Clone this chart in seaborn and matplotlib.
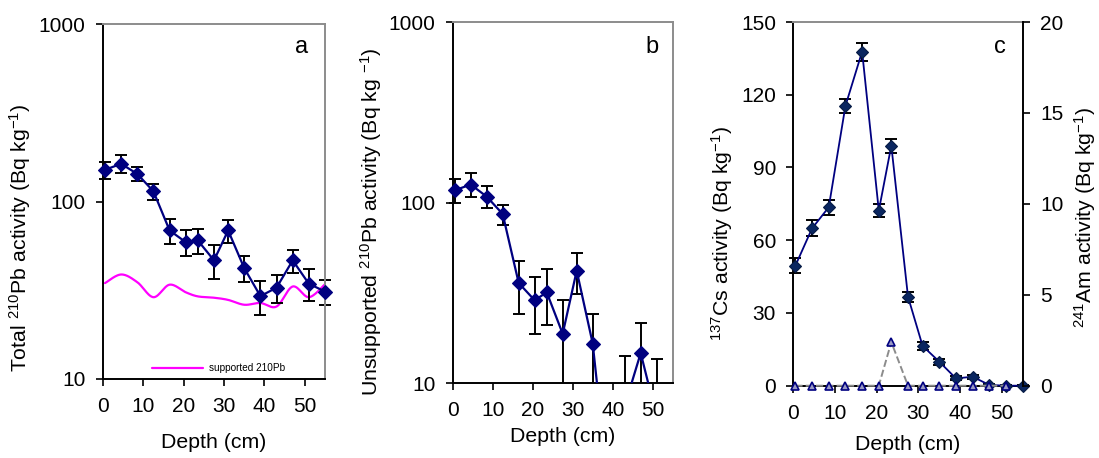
import numpy as np
import pandas as pd
import matplotlib
matplotlib.use("Agg")
import matplotlib.pyplot as plt
import seaborn as sns
from matplotlib.ticker import FixedLocator, FixedFormatter, NullLocator
from matplotlib.transforms import Bbox, TransformedBbox

# ---------------- data ----------------
depth = [0.5, 4.5, 8.5, 12.5, 16.5, 20.5, 23.5, 27.5, 31, 35, 39, 43, 47, 51, 55]
total_pb = [151, 163, 143, 114, 68.7, 59, 60.3, 46.6, 68.7, 42.1, 29.3, 32.7, 46.6, 34.4, 31.1]
total_pb_err = [17, 19, 13, 12, 11, 10, 10, 10, 10, 7, 6.5, 6, 7, 7, 5]
supported_pb = [34.7, 38.8, 35.1, 28.9, 34.0, 30.8, 29.2, 28.7, 27.9, 26.2, 26.8, 25.6, 33.2, 28.9, 34.2]
unsup_pb = [117, 126, 108, 86.5, 35.9, 28.8, 31.9, 18.8, 42, 16.6, 2.5, 7.5, 14.7, 6.5, np.nan]
unsup_pb_err = [18, 19, 15, 11, 11.8, 10, 11, 10, 10.6, 7.6, 6.5, 6.7, 7, 7.2, np.nan]
cs137 = [49.5, 64.9, 73.6, 115.4, 137.8, 72.2, 99.0, 36.7, 16.4, 9.9, 3.0, 3.7, 0.3, 0, 0]
cs137_err = [3.2, 3.3, 3.1, 3.0, 3.7, 2.6, 2.9, 2.1, 1.6, 1.2, 0.8, 0.8, 0.5, 0.3, 0.3]
am241 = [0, 0, 0, 0, 0, 0, 2.4, 0, 0, 0, 0, 0, 0, 0, np.nan]

log_ticks = [10, 100, 1000]
log_labels = ["10", "100", "1000"]
cs_ticks = [0, 30, 60, 90, 120, 150]
am_ticks = [0, 5, 10, 15, 20]
x_ticks = [0, 10, 20, 30, 40, 50]

# ---------------- style ----------------
sns.set_style("ticks")
plt.rcParams["font.family"] = ["Liberation Sans", "DejaVu Sans"]
plt.rcParams["mathtext.fontset"] = "custom"
plt.rcParams["mathtext.rm"] = "Liberation Sans"
plt.rcParams["mathtext.it"] = "Liberation Sans:italic"
plt.rcParams["mathtext.bf"] = "Liberation Sans:bold"
for k in ["text.color", "axes.labelcolor", "xtick.color", "ytick.color"]:
    plt.rcParams[k] = "black"

NAVY = "#000080"
DARKNAVY = "#0A2660"
GRAYSP = "#8C8C8C"
TICK_FS = 15
LAB_FS = 15.3


def smooth_curve(xs, ys, n=24):
    """Excel-like smoothed line (Catmull-Rom / Bezier) in (x, log y) space."""
    P = np.column_stack([xs, np.log10(ys)])
    P = np.vstack([P[0], P, P[-1]])
    segs = []
    t = np.linspace(0, 1, n, endpoint=False)[:, None]
    for i in range(1, len(P) - 2):
        p0, p1, p2, p3 = P[i - 1], P[i], P[i + 1], P[i + 2]
        c1 = p1 + (p2 - p0) / 6.0
        c2 = p2 - (p3 - p1) / 6.0
        segs.append((1 - t) ** 3 * p1 + 3 * (1 - t) ** 2 * t * c1
                    + 3 * (1 - t) * t ** 2 * c2 + t ** 3 * p2)
    segs.append(P[-2][None, :])
    S = np.vstack(segs)
    return S[:, 0], 10 ** S[:, 1]


def style_axes(ax, right_gray=True):
    for s in ["left", "bottom"]:
        ax.spines[s].set_color("black")
        ax.spines[s].set_linewidth(1.4)
    ax.spines["top"].set_visible(True)
    ax.spines["top"].set_color(GRAYSP)
    ax.spines["top"].set_linewidth(1.4)
    ax.spines["right"].set_visible(right_gray)
    ax.spines["right"].set_color(GRAYSP)
    ax.spines["right"].set_linewidth(1.4)
    ax.tick_params(axis="both", direction="out", length=5, width=1.2,
                   colors="black", labelsize=TICK_FS)
    ax.tick_params(axis="y", pad=7.5)
    ax.tick_params(axis="x", pad=8)
    ax.set_xlim(0, 55)
    ax.xaxis.set_major_locator(FixedLocator(x_ticks))
    ax.xaxis.set_minor_locator(NullLocator())


fig = plt.figure(figsize=(10.99, 4.58), dpi=100)
W, H = 1099, 458


def add_ax(l, t, r, b):
    return fig.add_axes([l / W, 1 - b / H, (r - l) / W, (b - t) / H])


# ---------------- panel a ----------------
axa = add_ax(103, 24, 325, 379)
axa.set_yscale("log")
axa.set_ylim(10, 1000)
axa.errorbar(depth, total_pb, yerr=total_pb_err, fmt="none", ecolor="black",
             elinewidth=1.4, capsize=4, capthick=1.4, clip_on=False, zorder=2)
sx, sy = smooth_curve(depth, supported_pb)
sns.lineplot(x=sx, y=sy, ax=axa, sort=False, estimator=None, color="#FF00FF",
             linewidth=1.6, label="supported 210Pb", zorder=1)
sns.lineplot(x=depth, y=total_pb, ax=axa, estimator=None, color=NAVY,
             linewidth=1.6, marker="D", markersize=6.9, markeredgecolor=NAVY,
             markeredgewidth=0.8, clip_on=False, zorder=3)
style_axes(axa)
axa.yaxis.set_major_locator(FixedLocator(log_ticks))
axa.yaxis.set_major_formatter(FixedFormatter(log_labels))
axa.yaxis.set_minor_locator(NullLocator())
axa.set_xlabel("Depth (cm)", fontsize=LAB_FS, labelpad=12)
axa.set_ylabel("Total $^{210}$Pb activity (Bq kg$^{-1}$)", fontsize=LAB_FS, labelpad=4)
axa.yaxis.label.set_y(0.399)
axa.legend(loc="center left", bbox_to_anchor=(0.221, 0.030), frameon=False,
           fontsize=7.2, handlelength=5.1, handletextpad=0.6, borderpad=0,
           borderaxespad=0)
axa.text(0.895, 0.917, "a", transform=axa.transAxes, fontsize=17,
         ha="center", va="baseline")

# ---------------- panel b ----------------
axb = add_ax(452.7, 22, 672.7, 383.3)
axb.set_yscale("log")
axb.set_ylim(10, 1000)
axb.errorbar(depth, unsup_pb, yerr=unsup_pb_err, fmt="none", ecolor="black",
             elinewidth=1.4, capsize=4, capthick=1.4, zorder=2)
sns.lineplot(x=depth, y=unsup_pb, ax=axb, estimator=None, color=NAVY,
             linewidth=1.6, marker="D", markersize=6.9, markeredgecolor=NAVY,
             markeredgewidth=0.8, zorder=3)
# clip only vertically so markers at the left edge are drawn whole
clipbox = TransformedBbox(Bbox([[-0.1, 0.0], [1.1, 1.0]]), axb.transAxes)
for art in list(axb.lines) + list(axb.collections):
    art.set_clip_box(clipbox)
style_axes(axb)
axb.yaxis.set_major_locator(FixedLocator(log_ticks))
axb.yaxis.set_major_formatter(FixedFormatter(log_labels))
axb.yaxis.set_minor_locator(NullLocator())
axb.set_xlabel("Depth (cm)", fontsize=LAB_FS, labelpad=5)
axb.set_ylabel("Unsupported $^{210}$Pb activity (Bq kg $^{-1}$)", fontsize=LAB_FS,
               labelpad=3)
axb.yaxis.label.set_y(0.447)
axb.text(0.905, 0.913, "b", transform=axb.transAxes, fontsize=17,
         ha="center", va="baseline")

# ---------------- panel c ----------------
axc = add_ax(793.3, 22, 1022.7, 385.7)
axc.set_ylim(0, 150)
axc.errorbar(depth, cs137, yerr=cs137_err, fmt="none", ecolor="black",
             elinewidth=1.4, capsize=4, capthick=1.4, clip_on=False, zorder=2)
sns.lineplot(x=depth, y=cs137, ax=axc, estimator=None, color=NAVY,
             linewidth=1.3, marker="D", markersize=6.5, markerfacecolor=DARKNAVY,
             markeredgecolor="#061a44", markeredgewidth=0.8, clip_on=False, zorder=3)
style_axes(axc, right_gray=False)
axc.yaxis.set_major_locator(FixedLocator(cs_ticks))
axc.yaxis.set_minor_locator(NullLocator())
axc.set_xlabel("Depth (cm)", fontsize=LAB_FS, labelpad=9)
axc.set_ylabel("$^{137}$Cs activity (Bq kg$^{-1}$)", fontsize=LAB_FS, labelpad=4)
axc.yaxis.label.set_y(0.42)

ax2 = axc.twinx()
ax2.set_ylim(0, 20)
sns.lineplot(x=depth, y=am241, ax=ax2, estimator=None, color="#8C8C8C",
             linewidth=1.4, linestyle="--", marker="^", markersize=6,
             markerfacecolor="#9A9AC4", markeredgecolor=NAVY,
             markeredgewidth=1.2, clip_on=False, zorder=4)
for s in ["left", "bottom", "top"]:
    ax2.spines[s].set_visible(False)
ax2.spines["right"].set_visible(True)
ax2.spines["right"].set_color("black")
ax2.spines["right"].set_linewidth(1.4)
ax2.tick_params(axis="y", direction="out", length=5, width=1.2, colors="black",
                labelsize=TICK_FS, pad=7.5)
ax2.yaxis.set_major_locator(FixedLocator(am_ticks))
ax2.yaxis.set_minor_locator(NullLocator())
ax2.set_ylabel("$^{241}$Am activity (Bq kg$^{-1}$)", fontsize=LAB_FS, labelpad=6)
ax2.yaxis.label.set_y(0.462)
axc.text(0.902, 0.914, "c", transform=axc.transAxes, fontsize=17,
         ha="center", va="baseline")

fig.savefig("out.png", dpi=100)
